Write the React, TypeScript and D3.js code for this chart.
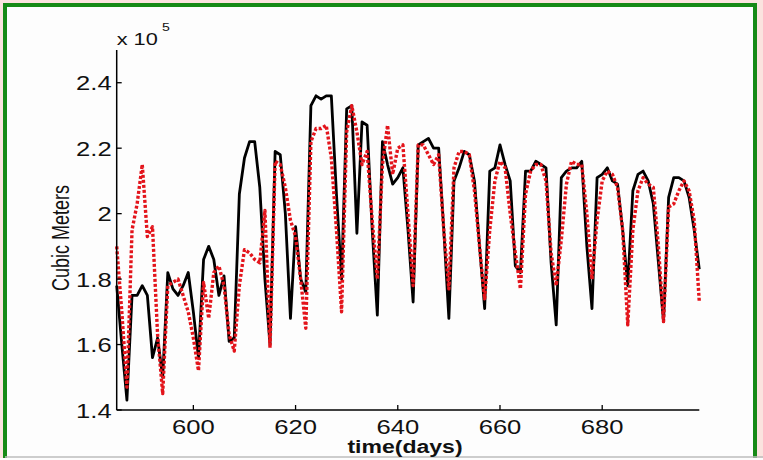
import React from "react";
import * as d3 from "d3";

const days = d3.range(585, 700);

const observed = [
  1.78, 1.60, 1.43, 1.75, 1.75, 1.78, 1.75, 1.56, 1.62, 1.50,
  1.82, 1.77, 1.75, 1.78, 1.82, 1.70, 1.56, 1.86, 1.90, 1.86,
  1.75, 1.81, 1.61, 1.62, 2.06, 2.17, 2.22, 2.22, 2.08, 1.80,
  1.60, 2.19, 2.18, 2.00, 1.68, 1.96, 1.80, 1.76, 2.33, 2.36,
  2.35, 2.36, 2.36, 2.06, 1.80, 2.32, 2.33, 1.94, 2.28, 2.27,
  1.95, 1.69, 2.22, 2.15, 2.09, 2.11, 2.14, 1.95, 1.73, 2.21,
  2.22, 2.23, 2.20, 2.20, 1.95, 1.68, 2.10, 2.14, 2.19, 2.18,
  2.10, 1.90, 1.71, 2.13, 2.14, 2.21, 2.15, 2.10, 1.84, 1.82,
  2.13, 2.13, 2.16, 2.15, 2.14, 1.85, 1.66, 2.11, 2.13, 2.14,
  2.14, 2.16, 1.90, 1.71, 2.11, 2.12, 2.14, 2.10, 2.09, 1.95,
  1.78, 2.07, 2.12, 2.13, 2.10, 2.03, 1.85, 1.67, 2.05, 2.11,
  2.11, 2.10, 2.05, 1.95, 1.83,
];

const predicted = [
  1.90, 1.70, 1.47, 1.95, 2.03, 2.15, 1.93, 1.96, 1.63, 1.45,
  1.78, 1.79, 1.80, 1.75, 1.70, 1.62, 1.52, 1.79, 1.68, 1.82,
  1.84, 1.78, 1.63, 1.58, 1.78, 1.89, 1.88, 1.86, 1.85, 2.01,
  1.59, 2.16, 2.15, 2.08, 1.98, 1.93, 1.80, 1.65, 2.22, 2.26,
  2.26, 2.27, 2.17, 1.95, 1.70, 2.25, 2.33, 2.25, 2.15, 2.19,
  1.98, 1.80, 2.15, 2.27, 2.12, 2.20, 2.21, 2.00, 1.78, 2.21,
  2.21, 2.18, 2.15, 2.18, 1.95, 1.77, 2.14, 2.19, 2.19, 2.18,
  2.07, 1.90, 1.74, 1.95, 2.10, 2.16, 2.14, 2.00, 1.88, 1.77,
  2.06, 2.13, 2.15, 2.15, 2.10, 1.88, 1.78, 1.92, 2.09, 2.16,
  2.15, 2.15, 2.00, 1.80, 1.98, 2.10, 2.13, 2.12, 2.08, 1.95,
  1.66, 1.95, 2.07, 2.11, 2.09, 2.08, 1.90, 1.67, 2.02, 2.03,
  2.07, 2.10, 2.07, 1.98, 1.73,
];

const yTicks = [1.4, 1.6, 1.8, 2.0, 2.2, 2.4];
const yTickLabels = ["1.4", "1.6", "1.8", "2", "2.2", "2.4"];
const xTicks = [600, 620, 640, 660, 680];

const W = 763;
const H = 460;
const X0 = 116.7;
const X1 = 699.3;
const Y0 = 410;
const Y1 = 50;
const SX = 1.28;
const FONT = "'Liberation Sans', Arial, Helvetica, sans-serif";

export default function App() {
  const x = d3.scaleLinear().domain([585, 699]).range([X0, X1]);
  const y = d3.scaleLinear().domain([1.4, 2.5]).range([Y0, Y1]);
  const line = d3
    .line<number>()
    .x((_, i) => x(days[i]))
    .y((d) => y(d));

  return (
    <svg
      width={W}
      height={H}
      style={{ position: "fixed", left: 0, top: 0, display: "block" }}
    >
      <rect x={0} y={0} width={W} height={H} fill="#fbe3df" />
      <rect x={5} y={5} width={750} height={480} fill="#fdfdfd" stroke="#168a16" strokeWidth={4} />
      <line x1={5} x2={W} y1={457} y2={457} stroke="#bdbdbd" strokeWidth={1.5} />
      <rect x={0} y={458} width={W} height={3} fill="#fdfdfd" />

      <path d={line(observed) || ""} fill="none" stroke="#000" strokeWidth={2.8} strokeLinejoin="round" />
      <path d={line(predicted) || ""} fill="none" stroke="#e3141b" strokeWidth={3.4} strokeDasharray="3,2" strokeLinejoin="round" />

      <line x1={X0} x2={X0} y1={Y1} y2={Y0} stroke="#000" strokeWidth={1.5} />
      <line x1={X0} x2={X1} y1={Y0} y2={Y0} stroke="#000" strokeWidth={1.5} />

      {yTicks.map((t, i) => (
        <g key={"y" + t}>
          <line x1={X0} x2={X0 + 5} y1={y(t)} y2={y(t)} stroke="#000" strokeWidth={1.3} />
          <text
            transform={`translate(${X0 - 5},${y(t) + 7.5}) scale(${SX},1)`}
            textAnchor="end"
            fontFamily={FONT}
            fontSize={20}
            fill="#111"
          >
            {yTickLabels[i]}
          </text>
        </g>
      ))}

      {xTicks.map((t) => (
        <g key={"x" + t}>
          <line x1={x(t)} x2={x(t)} y1={Y0} y2={Y0 - 5} stroke="#000" strokeWidth={1.3} />
          <text
            transform={`translate(${x(t)},${Y0 + 24}) scale(${SX},1)`}
            textAnchor="middle"
            fontFamily={FONT}
            fontSize={20}
            fill="#111"
          >
            {t}
          </text>
        </g>
      ))}

      <text
        transform={`translate(${X0},45) scale(${SX},1)`}
        fontFamily={FONT}
        fontSize={17}
        fill="#111"
      >
        x 10
      </text>
      <text
        transform={`translate(162,31) scale(${SX},1)`}
        fontFamily={FONT}
        fontSize={11}
        fill="#111"
      >
        5
      </text>

      <text
        transform={`translate(405,453) scale(${SX},1)`}
        textAnchor="middle"
        fontFamily={FONT}
        fontSize={18}
        fontWeight="bold"
        fill="#111"
      >
        time(days)
      </text>

      <text
        transform={`translate(69,238) rotate(-90) scale(1,${SX})`}
        textAnchor="middle"
        fontFamily={FONT}
        fontSize={18}
        fill="#111"
      >
        Cubic Meters
      </text>
    </svg>
  );
}
